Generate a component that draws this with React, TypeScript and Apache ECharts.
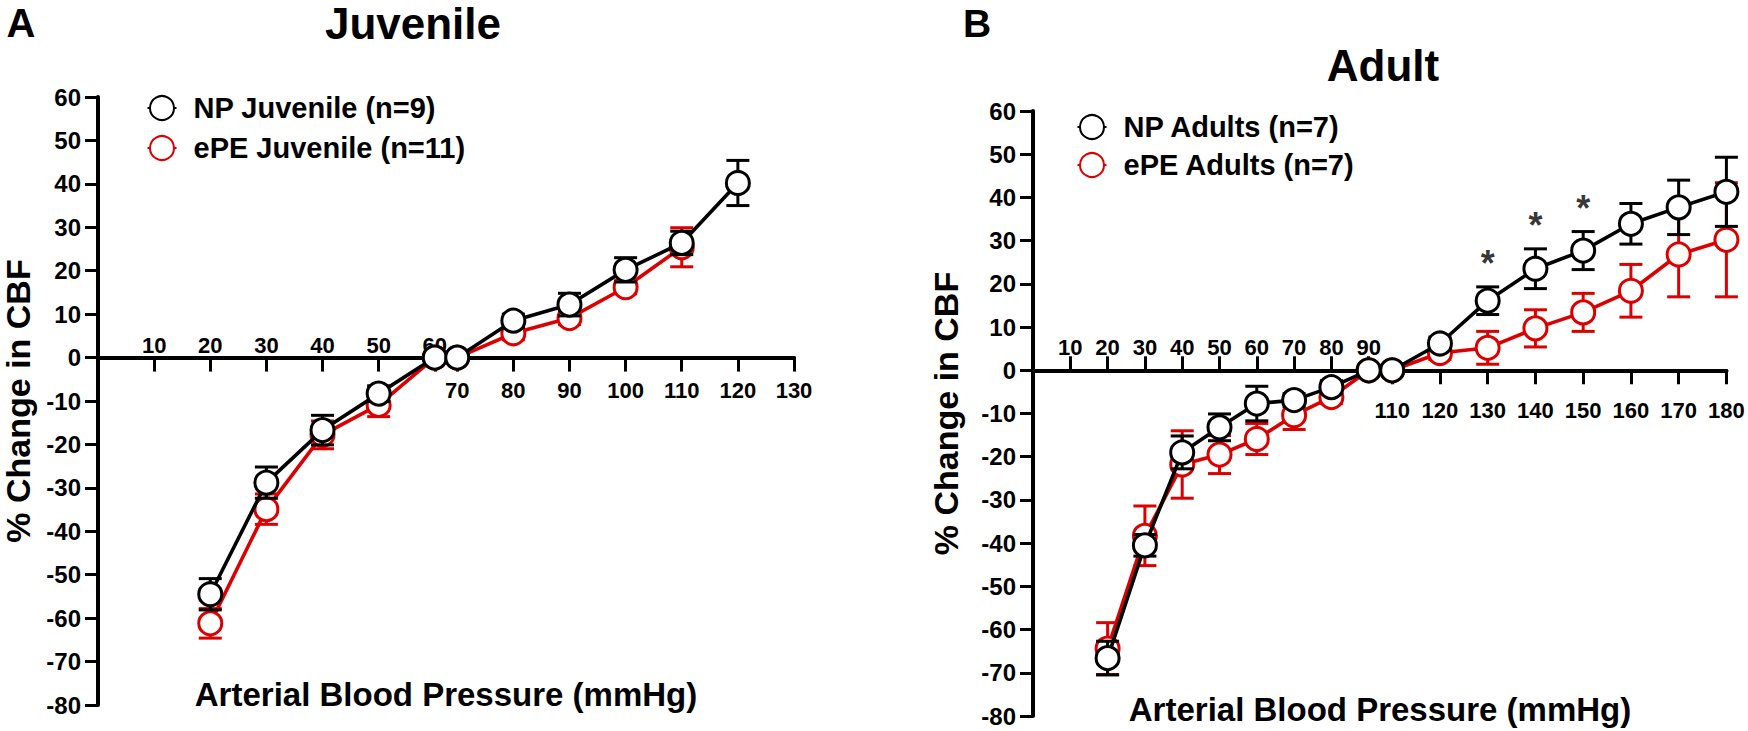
import React, { useEffect, useRef } from 'react';
import * as echarts from 'echarts';

// ---------------- Data ----------------
// Panel A (Juvenile)
const juvPressure = [20, 30, 40, 50, 60, 70, 80, 90, 100, 110, 120];
const npJuvMean = [-54.5, -28.8, -16.7, -8.3, 0, 0, 8.5, 12.2, 20.2, 26.4, 40.2];
const npJuvSem = [3.6, 3.6, 3.4, 1.8, 0, 0, 1.5, 2.6, 2.8, 2.7, 5.2];
const epeJuvPressure = [20, 30, 40, 50, 60, 70, 80, 90, 100, 110];
const epeJuvMean = [-61.2, -34.9, -17.8, -10.9, 0, 0, 5.6, 9.1, 16.2, 25.4];
const epeJuvSem = [3.4, 3.5, 3.2, 2.7, 0, 0, 1.5, 1.5, 1.5, 4.5];

// Panel B (Adult)
const adultPressure = [20, 30, 40, 50, 60, 70, 80, 90, 110, 120, 130, 140, 150, 160, 170, 180];
const npAdultMean = [-66.6, -40.5, -19.0, -13.2, -7.7, -6.9, -3.9, 0, 0, 6.2, 16.1, 23.5, 27.7, 33.9, 37.7, 41.3];
const npAdultSem = [3.9, 2.5, 3.8, 3.1, 4.0, 1.5, 1.5, 0, 0, 1.5, 3.2, 4.6, 4.4, 4.7, 6.3, 8.0];
const epeAdultMean = [-64.4, -38.3, -21.8, -19.5, -15.9, -10.4, -6.2, 0, 0, 4.0, 5.2, 9.7, 13.4, 18.4, 26.8, 30.2];
const epeAdultSem = [6.0, 6.9, 7.8, 4.4, 3.6, 3.3, 1.5, 0, 0, 1.5, 3.8, 4.3, 4.4, 6.1, 9.8, 13.2];
const sigPressure = [130, 140, 150];

// Tick labels
const juvTicksUpper = [10, 20, 30, 40, 50, 60];
const juvTicksLower = [70, 80, 90, 100, 110, 120, 130];
const adultTicksUpper = [10, 20, 30, 40, 50, 60, 70, 80, 90];
const adultTicksLower = [110, 120, 130, 140, 150, 160, 170, 180];

// Segmented x axes (as in the original figure)
const juvAxis = (p: number) => (p <= 60 ? p : p - 6);
const adultAxis = (p: number) => (p <= 90 ? p : 96.3 + (p - 110) * 1.28);

const FONT = 'Liberation Sans, Arial, Helvetica, sans-serif';
const RED = '#dc0000';
const BLACK = '#000000';
const Y_MIN = -80;
const Y_MAX = 60;

const gridA = { left: 96, top: 97, width: 698, height: 608 };
const gridB = { left: 1033, top: 111, width: 693.4, height: 605 };
// distance from the grid bottom up to the y = 0 line
const zeroOffset = (g: { height: number }) => -(g.height * (0 - Y_MIN)) / (Y_MAX - Y_MIN);

const makeFormatter = (ticks: number[], map: (p: number) => number) => {
  const lookup = new Map(ticks.map((t) => [map(t).toFixed(3), String(t)]));
  return (v: number) => lookup.get(Number(v).toFixed(3)) ?? '';
};

const errRender = (color: string) => (params: any, api: any) => {
  const x = api.value(0);
  const y = api.value(1);
  const e = api.value(2);
  if (!e) return null;
  const top = api.coord([x, y + e]);
  const bot = api.coord([x, y - e]);
  const hw = 11.5;
  const style = { stroke: color, lineWidth: 3, fill: 'none' };
  return {
    type: 'group',
    children: [
      { type: 'line', shape: { x1: top[0], y1: top[1], x2: bot[0], y2: bot[1] }, style },
      { type: 'line', shape: { x1: top[0] - hw, y1: top[1], x2: top[0] + hw, y2: top[1] }, style },
      { type: 'line', shape: { x1: bot[0] - hw, y1: bot[1], x2: bot[0] + hw, y2: bot[1] }, style },
    ],
  };
};

const lineSeries = (name: string, color: string, xs: number[], ys: number[], map: (p: number) => number, xi: number, yi: number, z: number) => ({
  type: 'line',
  name,
  xAxisIndex: xi,
  yAxisIndex: yi,
  data: xs.map((p, i) => [map(p), ys[i]]),
  symbol: 'circle',
  symbolSize: 23,
  showSymbol: true,
  showAllSymbol: true,
  itemStyle: { color: '#ffffff', borderColor: color, borderWidth: 3 },
  lineStyle: { color, width: 3.6 },
  clip: false,
  silent: true,
  z,
  emphasis: { disabled: true },
});

const errSeries = (color: string, xs: number[], ys: number[], es: number[], map: (p: number) => number, xi: number, yi: number, z: number) => ({
  type: 'custom',
  xAxisIndex: xi,
  yAxisIndex: yi,
  data: xs.map((p, i) => [map(p), ys[i], es[i]]),
  encode: { x: 0, y: 1 },
  renderItem: errRender(color),
  clip: false,
  silent: true,
  z,
});

const tickLabelStyle = { fontSize: 22, fontWeight: 'bold', color: BLACK, fontFamily: FONT };

const xAxisPair = (grid: number, g: { height: number }, max: number, upper: number[], lower: number[], map: (p: number) => number, upperTicksInside: boolean, upperMargin: number, lowerMargin: number) => [
  {
    type: 'value', gridIndex: grid, min: 0, max, position: 'bottom', offset: zeroOffset(g),
    axisLine: { show: true, onZero: false, lineStyle: { color: BLACK, width: 4 } },
    axisTick: { show: true, inside: upperTicksInside, length: 14, customValues: upper.map(map), lineStyle: { color: BLACK, width: 3 } },
    axisLabel: { show: true, inside: true, margin: upperMargin, customValues: upper.map(map), formatter: makeFormatter(upper, map), ...tickLabelStyle },
    splitLine: { show: false },
  },
  {
    type: 'value', gridIndex: grid, min: 0, max, position: 'bottom', offset: zeroOffset(g),
    axisLine: { show: true, onZero: false, lineStyle: { color: BLACK, width: 4 } },
    axisTick: { show: true, inside: false, length: 14, customValues: lower.map(map), lineStyle: { color: BLACK, width: 3 } },
    axisLabel: { show: true, inside: false, margin: lowerMargin, customValues: lower.map(map), formatter: makeFormatter(lower, map), ...tickLabelStyle },
    splitLine: { show: false },
  },
];

const yAxisDef = (grid: number, nameGap: number) => ({
  type: 'value', gridIndex: grid, min: Y_MIN, max: Y_MAX, interval: 10,
  axisLine: { show: true, onZero: false, lineStyle: { color: BLACK, width: 4 } },
  axisTick: { show: true, length: 13, lineStyle: { color: BLACK, width: 3 } },
  axisLabel: { margin: 17, fontSize: 24, fontWeight: 'bold', color: BLACK, fontFamily: FONT },
  splitLine: { show: false },
  name: '% Change in CBF',
  nameLocation: 'middle',
  nameRotate: 90,
  nameGap,
  nameTextStyle: { fontSize: 34, fontWeight: 'bold', color: BLACK, fontFamily: FONT },
});

const legendDef = (names: string[], left: number, top: number, gap: number) => ({
  data: names,
  orient: 'vertical',
  left,
  top,
  itemWidth: 29,
  itemHeight: 30,
  itemGap: gap,
  selectedMode: false,
  textStyle: { fontSize: 29, lineHeight: 30, fontWeight: 'bold', color: BLACK, fontFamily: FONT, padding: [0, 0, 0, 12] },
});

const textEl = (text: string, x: number, y: number, size: number) => ({
  type: 'text',
  x,
  y,
  style: { text, fontSize: size, fontWeight: 'bold', fill: BLACK, fontFamily: FONT, textAlign: 'center', textVerticalAlign: 'middle' },
});

export default function App() {
  const ref = useRef<HTMLDivElement>(null);
  useEffect(() => {
    if (!ref.current) return;
    const chart = echarts.init(ref.current, undefined, { renderer: 'svg' });
    const asterisks = sigPressure.map((p) => {
      const i = adultPressure.indexOf(p);
      return [adultAxis(p), npAdultMean[i] + npAdultSem[i] + 5.4];
    });
    chart.setOption({
      animation: false,
      backgroundColor: '#ffffff',
      grid: [gridA, gridB],
      xAxis: [
        ...xAxisPair(0, gridA, 124, juvTicksUpper, juvTicksLower, juvAxis, false, 1, 22),
        ...xAxisPair(1, gridB, 185.9, adultTicksUpper, adultTicksLower, adultAxis, true, 12, 29),
      ],
      yAxis: [yAxisDef(0, 63), yAxisDef(1, 70)],
      legend: [
        legendDef(['NP Juvenile (n=9)', 'ePE Juvenile (n=11)'], 141.5, 88, 10),
        legendDef(['NP Adults (n=7)', 'ePE Adults (n=7)'], 1071.5, 107, 8),
      ],
      graphic: [
        textEl('A', 21, 23, 40),
        textEl('Juvenile', 413, 23, 44),
        textEl('B', 977, 23, 39),
        textEl('Adult', 1383, 65, 44),
        textEl('Arterial Blood Pressure (mmHg)', 446, 694, 33),
        textEl('Arterial Blood Pressure (mmHg)', 1380, 709, 33),
      ],
      series: [
        errSeries(RED, epeJuvPressure, epeJuvMean, epeJuvSem, juvAxis, 0, 0, 2),
        lineSeries('ePE Juvenile (n=11)', RED, epeJuvPressure, epeJuvMean, juvAxis, 0, 0, 3),
        errSeries(BLACK, juvPressure, npJuvMean, npJuvSem, juvAxis, 0, 0, 4),
        lineSeries('NP Juvenile (n=9)', BLACK, juvPressure, npJuvMean, juvAxis, 0, 0, 5),
        errSeries(RED, adultPressure, epeAdultMean, epeAdultSem, adultAxis, 2, 1, 2),
        lineSeries('ePE Adults (n=7)', RED, adultPressure, epeAdultMean, adultAxis, 2, 1, 3),
        errSeries(BLACK, adultPressure, npAdultMean, npAdultSem, adultAxis, 2, 1, 4),
        lineSeries('NP Adults (n=7)', BLACK, adultPressure, npAdultMean, adultAxis, 2, 1, 5),
        {
          type: 'scatter',
          xAxisIndex: 2,
          yAxisIndex: 1,
          data: asterisks,
          symbol: 'circle',
          symbolSize: 1,
          itemStyle: { color: 'rgba(0,0,0,0)' },
          silent: true,
          z: 6,
          label: { show: true, position: 'inside', formatter: '*', fontSize: 36, fontWeight: 'bold', color: BLACK, fontFamily: FONT },
        },
      ],
    });
    return () => chart.dispose();
  }, []);
  return <div ref={ref} style={{ position: 'fixed', left: 0, top: 0, width: 1748, height: 731, background: '#fff' }} />;
}
